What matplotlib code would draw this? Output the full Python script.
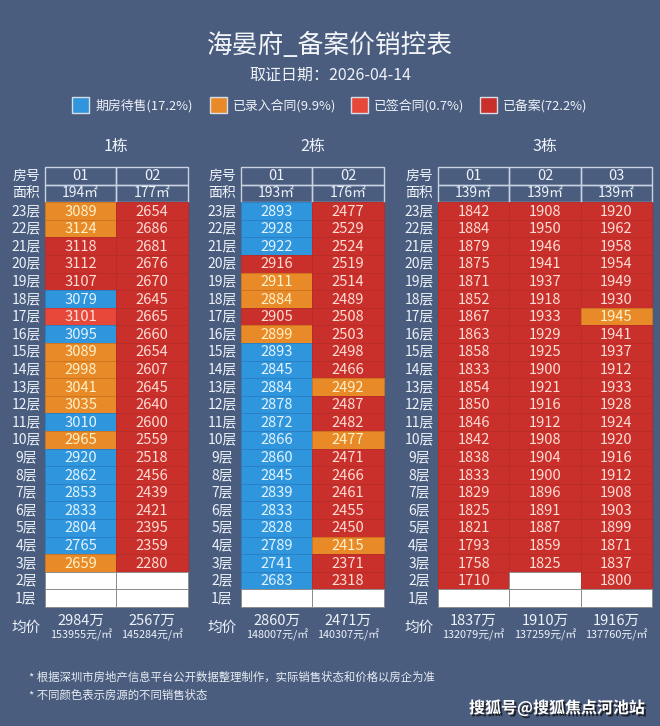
import matplotlib
matplotlib.use('Agg')
import matplotlib.pyplot as plt
from matplotlib.patches import Rectangle
import matplotlib.patheffects as pe

plt.rcParams['font.family'] = ['Noto Sans CJK SC', 'DejaVu Sans']

# ---------------- data ----------------
title = '海晏府_备案价销控表'
subtitle = '取证日期：2026-04-14'
legend_labels = ['期房待售(17.2%)', '已录入合同(9.9%)', '已签合同(0.7%)', '已备案(72.2%)']
legend_keys = ['B', 'O', 'S', 'R']
floors = list(range(23, 0, -1))
building_names = ['1栋', '2栋', '3栋']
footnotes = ['* 根据深圳市房地产信息平台公开数据整理制作，实际销售状态和价格以房企为准',
             '* 不同颜色表示房源的不同销售状态']
watermark = '搜狐号@搜狐焦点河池站'

b1_rooms = ['01', '02']
b1_areas = [194, 177]
b1_01_prices = [3089, 3124, 3118, 3112, 3107, 3079, 3101, 3095, 3089, 2998, 3041, 3035,
                3010, 2965, 2920, 2862, 2853, 2833, 2804, 2765, 2659, None, None]
b1_01_status = 'OORRRBSBOOOOBOBBBBBBOEE'
b1_02_prices = [2654, 2686, 2681, 2676, 2670, 2645, 2665, 2660, 2654, 2607, 2645, 2640,
                2600, 2559, 2518, 2456, 2439, 2421, 2395, 2359, 2280, None, None]
b1_02_status = 'RRRRRRRRRRRRRRRRRRRRREE'
b1_avg_total = ['2984万', '2567万']
b1_avg_unit = ['153955元/㎡', '145284元/㎡']

b2_rooms = ['01', '02']
b2_areas = [193, 176]
b2_01_prices = [2893, 2928, 2922, 2916, 2911, 2884, 2905, 2899, 2893, 2845, 2884, 2878,
                2872, 2866, 2860, 2845, 2839, 2833, 2828, 2789, 2741, 2683, None]
b2_01_status = 'BBBROOROBBBBBBBBBBBBBBE'
b2_02_prices = [2477, 2529, 2524, 2519, 2514, 2489, 2508, 2503, 2498, 2466, 2492, 2487,
                2482, 2477, 2471, 2466, 2461, 2455, 2450, 2415, 2371, 2318, None]
b2_02_status = 'RRRRRRRRRRORRORRRRRORRE'
b2_avg_total = ['2860万', '2471万']
b2_avg_unit = ['148007元/㎡', '140307元/㎡']

b3_rooms = ['01', '02', '03']
b3_areas = [139, 139, 139]
b3_01_prices = [1842, 1884, 1879, 1875, 1871, 1852, 1867, 1863, 1858, 1833, 1854, 1850,
                1846, 1842, 1838, 1833, 1829, 1825, 1821, 1793, 1758, 1710, None]
b3_01_status = 'RRRRRRRRRRRRRRRRRRRRRRE'
b3_02_prices = [1908, 1950, 1946, 1941, 1937, 1918, 1933, 1929, 1925, 1900, 1921, 1916,
                1912, 1908, 1904, 1900, 1896, 1891, 1887, 1859, 1825, None, None]
b3_02_status = 'RRRRRRRRRRRRRRRRRRRRREE'
b3_03_prices = [1920, 1962, 1958, 1954, 1949, 1930, 1945, 1941, 1937, 1912, 1933, 1928,
                1924, 1920, 1916, 1912, 1908, 1903, 1899, 1871, 1837, 1800, None]
b3_03_status = 'RRRRRROR' + 'RRRRRRRRRRRRRR' + 'E'
b3_avg_total = ['1837万', '1910万', '1916万']
b3_avg_unit = ['132079元/㎡', '137259元/㎡', '137760元/㎡']

buildings = [
    (b1_rooms, b1_areas, [(b1_01_prices, b1_01_status), (b1_02_prices, b1_02_status)], b1_avg_total, b1_avg_unit),
    (b2_rooms, b2_areas, [(b2_01_prices, b2_01_status), (b2_02_prices, b2_02_status)], b2_avg_total, b2_avg_unit),
    (b3_rooms, b3_areas, [(b3_01_prices, b3_01_status), (b3_02_prices, b3_02_status),
                          (b3_03_prices, b3_03_status)], b3_avg_total, b3_avg_unit),
]

# ---------------- style / layout ----------------
BG = '#4a5d7f'
fill = {'B': '#2f95dd', 'O': '#e98a28', 'S': '#e8483a', 'R': '#c9302c', 'E': '#ffffff'}
edge = {'B': '#2a80c4', 'O': '#cc7420', 'S': '#cc3c30', 'R': '#b92c28', 'E': '#8c8c8c'}
tcol = {'B': '#e2f3ff', 'O': '#fff1c8', 'S': '#ffe2da', 'R': '#ffdcd4', 'E': '#ffffff'}
LABEL = '#eef2f8'

col_w = 71.3
rh = 17.6
head_top = 167.0
floor_top = head_top + 2 * rh
label_x = [26, 222, 419]
col_left0 = [45, 241, 438]

fig = plt.figure(figsize=(6.6, 7.26), dpi=100, facecolor=BG)
ax = fig.add_axes([0, 0, 1, 1])
ax.set_xlim(0, 660)
ax.set_ylim(726, 0)
ax.axis('off')
ax.set_facecolor(BG)

ax.text(330, 46, title, ha='center', va='center', fontsize=18.5, color='#f2f4f8')
ax.text(330, 75, subtitle, ha='center', va='center', fontsize=11.5, color='#eef1f6')

leg_x = [72, 210, 351, 480]
for lx, key, lab in zip(leg_x, legend_keys, legend_labels):
    ax.add_patch(Rectangle((lx, 97), 17, 16, facecolor=fill[key], edgecolor='#d8dde6', linewidth=1))
    ax.text(lx + 23, 105.5, lab, ha='left', va='center', fontsize=9.3, color='#eef1f6')

floor_y = [floor_top + (23 - f + 0.5) * rh for f in floors]

for bi, (rooms, areas, cols, avg_t, avg_u) in enumerate(buildings):
    lefts = [col_left0[bi] + i * col_w for i in range(len(rooms))]
    cx_all = [l + col_w / 2 for l in lefts]
    ax.text(sum(cx_all) / len(cx_all), 147, building_names[bi], ha='center', va='center',
            fontsize=11.5, color='#eef1f6')
    lx = label_x[bi]
    ax.text(lx, head_top + rh * 0.5, '房号', ha='center', va='center', fontsize=10, color=LABEL)
    ax.text(lx, head_top + rh * 1.5, '面积', ha='center', va='center', fontsize=10, color=LABEL)
    for f, y in zip(floors, floor_y):
        ax.text(lx, y, f'{f}层', ha='center', va='center', fontsize=10, color=LABEL)
    ax.text(lx, 628, '均价', ha='center', va='center', fontsize=10.5, color=LABEL)

    for i, (room, area, (prices, status)) in enumerate(zip(rooms, areas, cols)):
        x0 = lefts[i]
        cx = cx_all[i]
        ax.barh([head_top + rh * 0.5, head_top + rh * 1.5], col_w, left=x0, height=rh,
                color='none', edgecolor='#c8d2e0', linewidth=1)
        ax.text(cx, head_top + rh * 0.5, room, ha='center', va='center', fontsize=10.5, color=LABEL)
        ax.text(cx, head_top + rh * 1.5, f'{area}㎡', ha='center', va='center', fontsize=10, color=LABEL)
        ax.barh(floor_y, col_w, left=x0, height=rh,
                color=[fill[s] for s in status], edgecolor=[edge[s] for s in status], linewidth=0.7)
        for y, p, s in zip(floor_y, prices, status):
            if p is not None:
                ax.text(cx, y + 0.5, str(p), ha='center', va='center', fontsize=10.6, color=tcol[s])
        ax.text(cx, 621, avg_t[i], ha='center', va='center', fontsize=10.5, color=LABEL)
        ax.text(cx, 635, avg_u[i], ha='center', va='center', fontsize=7.8, color=LABEL)

ax.text(29, 677, footnotes[0], ha='left', va='center', fontsize=8.2, color='#e8ecf2')
ax.text(29, 695, footnotes[1], ha='left', va='center', fontsize=8.2, color='#e8ecf2')

ax.text(645, 708, watermark, ha='right', va='center', fontsize=11.5, fontweight='bold',
        color='#ffffff',
        path_effects=[pe.withSimplePatchShadow(offset=(1.5, -1.5), shadow_rgbFace='#1a1a1a', alpha=0.9)])

fig.savefig('out.png', dpi=100, facecolor=BG)
